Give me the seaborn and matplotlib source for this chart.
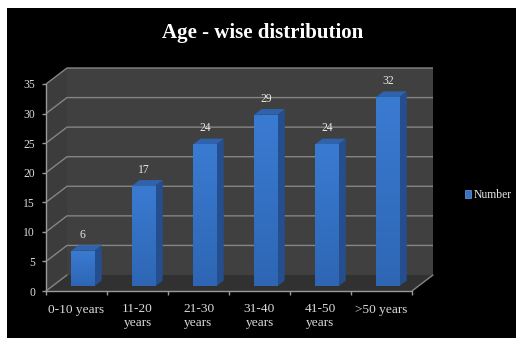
import numpy as np
import pandas as pd
import matplotlib
matplotlib.use("Agg")
import matplotlib.pyplot as plt
from matplotlib.patches import Polygon, Rectangle, Patch
import seaborn as sns

# ---- data ----
categories = ["0-10 years", "11-20\nyears", "21-30\nyears", "31-40\nyears", "41-50\nyears", ">50 years"]
counts = [6, 17, 24, 29, 24, 32]
y_ticks = [0, 5, 10, 15, 20, 25, 30, 35]
series_name = "Number"
title = "Age - wise distribution"

sns.set_style("white")
plt.rcParams["font.family"] = ["Liberation Serif", "DejaVu Serif"]

W, H = 516, 338
fig = plt.figure(figsize=(W / 100, H / 100), dpi=100, facecolor="white")
# black panel behind the chart
fig.patches.append(Rectangle((7 / W, 0), 1, (H - 8) / H, transform=fig.transFigure,
                             facecolor="black", edgecolor="none", zorder=-20))

ax = fig.add_axes([46 / W, 47 / H, 366 / W, 207 / H])
ax.set_facecolor("none")
for s in ax.spines.values():
    s.set_visible(False)

XMIN, XMAX = -0.5, len(categories) - 0.5
YMAX = y_ticks[-1]
DX = 21 / 61          # depth offset in category units
DY = 16 / (207 / 35)  # depth offset in value units
FRONT, DEPTH = 0.30, 0.35  # bar placement within the depth

wall_c = "#404040"
side_c = "#3c3c3c"
floor_c = "#313131"
grid_c = "#858585"

# walls and floor
ax.add_patch(Polygon([(XMIN + DX, DY), (XMAX + DX, DY), (XMAX + DX, YMAX + DY), (XMIN + DX, YMAX + DY)],
                     closed=True, facecolor=wall_c, edgecolor="none", zorder=0, clip_on=False))
ax.add_patch(Polygon([(XMIN, 0), (XMIN + DX, DY), (XMIN + DX, YMAX + DY), (XMIN, YMAX)],
                     closed=True, facecolor=side_c, edgecolor="none", zorder=0, clip_on=False))
ax.add_patch(Polygon([(XMIN, 0), (XMAX, 0), (XMAX + DX, DY), (XMIN + DX, DY)],
                     closed=True, facecolor=floor_c, edgecolor="none", zorder=0.5, clip_on=False))

# gridlines across the side wall and back wall
for t in y_ticks:
    if t == 0:
        continue
    ax.plot([XMIN, XMIN + DX, XMAX + DX], [t, t + DY, t + DY], color=grid_c, lw=1.0,
            zorder=0.6, clip_on=False, solid_capstyle="butt")
# floor edges
ax.plot([XMIN, XMIN + DX], [0, DY], color=grid_c, lw=1.0, zorder=0.6, clip_on=False)
ax.plot([XMAX, XMAX + DX], [0, DY], color=grid_c, lw=1.0, zorder=0.6, clip_on=False)

# bars
df = pd.DataFrame({"group": categories, "count": counts})
sns.barplot(data=df, x="group", y="count", color="#3573c6", width=0.38, ax=ax,
            saturation=1, zorder=2)

grad = np.linspace(1, 0, 64).reshape(-1, 1)
cmap = matplotlib.colors.LinearSegmentedColormap.from_list("barface", ["#2e66b4", "#3a7bd2"])
for p, v in zip(list(ax.patches)[-len(counts):], counts):
    x0 = p.get_x() + FRONT * DX
    w = p.get_width()
    y0 = FRONT * DY
    p.set_x(x0)
    p.set_y(y0)
    p.set_height(v)
    p.set_clip_on(False)
    p.set_edgecolor("none")
    p.set_zorder(2)
    # shaded front face
    im = ax.imshow(grad, extent=[x0, x0 + w, y0, y0 + v], cmap=cmap, aspect="auto",
                   zorder=2.1, interpolation="bilinear")
    im.set_clip_path(p)
    # right side face
    ax.add_patch(Polygon([(x0 + w, y0), (x0 + w + DEPTH * DX, y0 + DEPTH * DY),
                          (x0 + w + DEPTH * DX, y0 + v + DEPTH * DY), (x0 + w, y0 + v)],
                         closed=True, facecolor="#244e8e", edgecolor="none", zorder=2, clip_on=False))
    # top face
    ax.add_patch(Polygon([(x0, y0 + v), (x0 + w, y0 + v), (x0 + w + DEPTH * DX, y0 + v + DEPTH * DY),
                          (x0 + DEPTH * DX, y0 + v + DEPTH * DY)],
                         closed=True, facecolor="#2f63ae", edgecolor="none", zorder=2, clip_on=False))
    ax.annotate(str(v), (x0 + w / 2, y0 + v + DEPTH * DY), xytext=(0, 3), textcoords="offset points",
                ha="center", va="bottom", color="#e6e6e6", fontsize=8.4)

# front axis lines
ax.plot([XMIN, XMIN], [0, YMAX], color="#9a9a9a", lw=1.0, zorder=3, clip_on=False)
ax.plot([XMIN, XMAX], [0, 0], color="#9a9a9a", lw=1.0, zorder=3, clip_on=False)

ax.set_xlim(XMIN, XMAX)
ax.set_ylim(0, YMAX)
ax.set_yticks(y_ticks)
ax.set_yticklabels([str(t) for t in y_ticks])
ax.set_xticks(range(len(categories)))
ax.set_xticklabels(categories, linespacing=1.15)
ax.set_xticks(np.arange(XMIN, XMAX + 0.01, 1.0), minor=True)
ax.set_xlabel("")
ax.set_ylabel("")
ax.tick_params(axis="y", which="major", length=3, width=1, color="#9a9a9a", pad=5,
               labelsize=8.4, labelcolor="#dcdcdc", left=True)
ax.tick_params(axis="x", which="major", length=0, pad=9, labelsize=9.6, labelcolor="#dcdcdc")
ax.tick_params(axis="x", which="minor", length=3, width=1, color="#9a9a9a", bottom=True)

fig.text(263 / W, 1 - 33 / H, title, ha="center", va="center", fontsize=15,
         fontweight="bold", color="white")

leg = fig.legend(handles=[Patch(facecolor="#3573c6", edgecolor="#6fa0e0", lw=0.5)],
                 labels=[series_name], loc="center left",
                 bbox_to_anchor=(459 / W, 1 - 195 / H), frameon=False, handlelength=0.55,
                 handleheight=0.75, handletextpad=0.25, borderpad=0, fontsize=8.4,
                 labelcolor="#e6e6e6")

fig.savefig("out.png", dpi=100, facecolor=fig.get_facecolor())
